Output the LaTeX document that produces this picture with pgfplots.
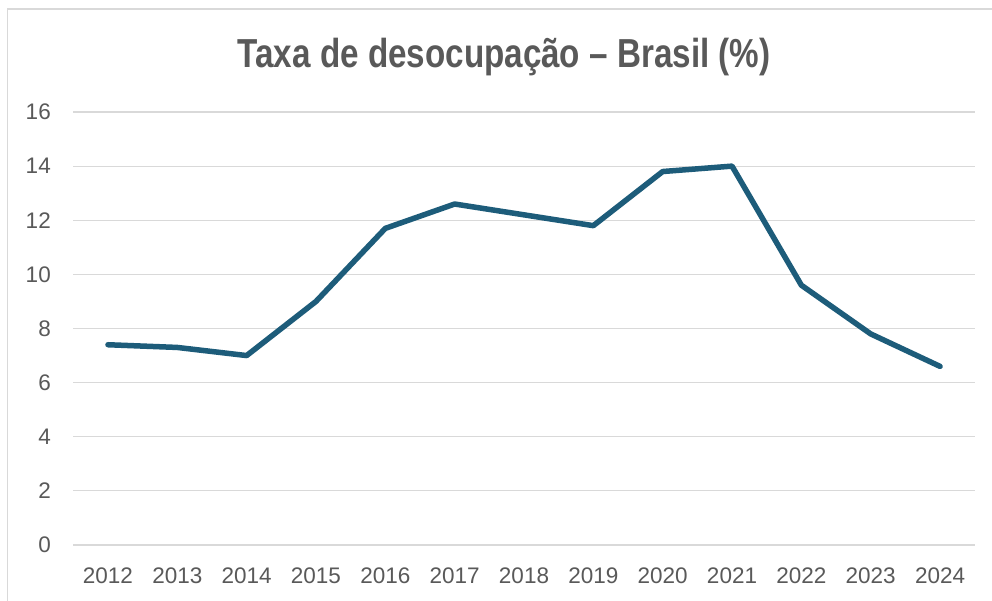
\documentclass[border=0pt]{standalone}
\usepackage{fontspec}
\setmainfont{Liberation Sans}
\newfontfamily\titlefont[FakeStretch=0.82]{Liberation Sans}
\usepackage{pgfplots}
\pgfplotsset{compat=1.18}
\definecolor{linec}{HTML}{1D5C7A}
\definecolor{gridc}{HTML}{D9D9D9}
\definecolor{textc}{HTML}{595959}
\begin{document}
\begin{tikzpicture}[x=1pt,y=1pt]
\useasboundingbox (0,0) rectangle (992,600);
\fill[white] (0,0) rectangle (992,600);
\draw[gridc, line width=1.5pt] (7.5,-5) -- (7.5,591) -- (1000,591);
\begin{axis}[
  at={(73.3pt,55pt)}, anchor=south west,
  scale only axis, width=901.4pt, height=433pt,
  xmin=-0.5, xmax=12.5, ymin=0, ymax=16,
  xtick={0,...,12},
  xticklabels={2012,2013,2014,2015,2016,2017,2018,2019,2020,2021,2022,2023,2024},
  ytick={0,2,...,16},
  axis line style={draw=none},
  major tick length=0pt,
  ymajorgrids, grid style={gridc, line width=1.2pt},
  tick label style={font=\fontsize{22.5}{26}\selectfont, text=textc},
  /pgf/number format/assume math mode=true,
  xticklabel style={yshift=-19pt},
  yticklabel style={xshift=-19pt},
  clip=false,
]
\addplot[linec, line width=5.5pt, line join=round, line cap=round] coordinates {
(0,7.4) (1,7.3) (2,7.0) (3,9.0) (4,11.7) (5,12.6) (6,12.2) (7,11.8) (8,13.8) (9,14.0) (10,9.6) (11,7.8) (12,6.6)
};
\end{axis}
\node[text=textc, font=\titlefont\bfseries\fontsize{40.5}{46}\selectfont] at (504,543) {Taxa de desocupação – Brasil (\%)};
\end{tikzpicture}
\end{document}
